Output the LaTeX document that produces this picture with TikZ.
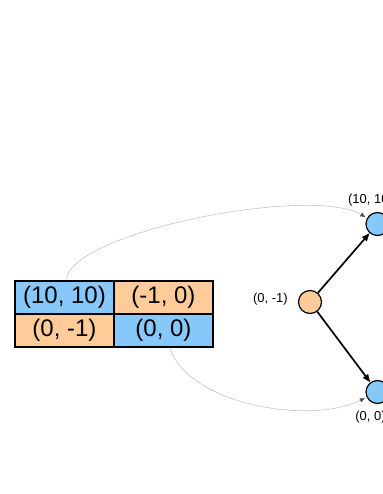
\documentclass[tikz,border=0pt]{standalone}
\usepackage{fontspec}
\setmainfont{Liberation Sans}
\usetikzlibrary{arrows.meta, positioning}
\definecolor{payblue}{RGB}{135, 200, 250}
\definecolor{payorange}{RGB}{255, 204, 153}

\begin{document}
\begin{tikzpicture}[
  x=1pt, y=-1pt,
  node distance=10pt,
  cell/.style={draw, line width=2.8pt, minimum width=99pt, minimum height=33pt, inner sep=0pt, outer sep=0pt, font=\fontsize{24}{27}\selectfont},
  state/.style={circle, draw, line width=1.2pt, minimum size=23pt, inner sep=0pt},
  tag/.style={font=\fontsize{13}{15}\selectfont, inner sep=1pt},
  move/.style={-{Triangle[length=8pt, width=6pt]}, line width=1.7pt},
  link/.style={-{Triangle[length=5pt, width=4pt, color=black!70]}, gray!55, line width=0.6pt, dash pattern=on 2pt off 0.6pt, shorten >=2pt, shorten <=2pt}
]
  \useasboundingbox (0, 0) rectangle (382, 494);

  % Matrice dei payoff
  \node[cell, fill=payblue] (c11) at (64.5, 297.5) {(10, 10)};
  \node[cell, fill=payorange, right=0pt of c11] (c12) {(-1, 0)};
  \node[cell, fill=payorange, below=0pt of c11] (c21) {(0, -1)};
  \node[cell, fill=payblue, right=0pt of c21] (c22) {(0, 0)};

  % Albero del gioco
  \node[state, fill=payorange] (root) at (310, 302) {};
  \node[state, fill=payblue] (up) at (377.5, 224) {};
  \node[state, fill=payblue] (down) at (377.5, 392) {};

  \node[tag, left=9pt of root, yshift=3pt] (rootlab) {(0, -1)};
  \node[tag, above=5pt of up, xshift=-7pt] (uplab) {(10, 10)};
  \node[tag, below=6pt of down, xshift=-7pt] (downlab) {(0, 0)};

  \draw[move] (root) -- (up);
  \draw[move] (root) -- (down);

  % Collegamenti tra celle e foglie
  \draw[link] (c11) .. controls (72, 232) and (310, 185) .. (up);
  \draw[link] (c22) .. controls (190, 405) and (310, 425) .. (down);

\end{tikzpicture}
\end{document}
